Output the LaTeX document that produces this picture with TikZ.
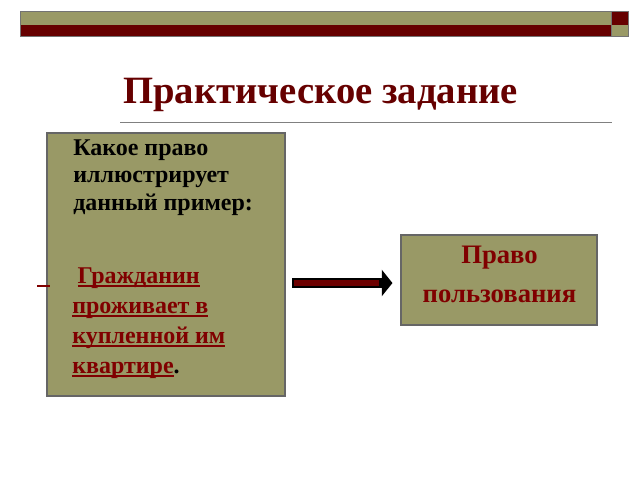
\documentclass[tikz,border=0pt]{standalone}
\usepackage{fontspec}
\setmainfont{Liberation Serif}
\usepackage{tikz}
\usetikzlibrary{arrows.meta, positioning, calc}

\definecolor{olivebox}{RGB}{153,153,102}
\definecolor{maroon}{RGB}{102,0,0}
\definecolor{textred}{RGB}{128,0,0}
\newsavebox{\ulbox}
\newcommand{\ru}[1]{{\color{textred}\sbox{\ulbox}{#1}\rlap{\rule[-3pt]{\wd\ulbox}{1.3pt}}\usebox{\ulbox}}}

\tikzset{
    slidebox/.style={draw=black!60, line width=0.8pt, fill=olivebox, inner sep=0pt},
    bodytext/.style={font=\bfseries\fontsize{18}{20.6}\selectfont, align=left, inner sep=0pt}
}

\begin{document}
\begin{tikzpicture}[x=0.75pt, y=-0.75pt]
    \useasboundingbox (0,0) rectangle (640,480);

    % top bars
    \fill[olivebox] (20,11) rectangle (611,25);
    \fill[maroon] (20,25) rectangle (611,36);
    \fill[maroon] (611,11) rectangle (628,25);
    \fill[olivebox] (611,25) rectangle (628,36);
    \draw[black!55, line width=0.6pt] (20,11) rectangle (628,36);
    \draw[black!55, line width=0.6pt] (611,11) -- (611,36);

    % title
    \node[font=\bfseries\fontsize{29}{34}\selectfont, text=maroon, anchor=base] (title) at (320.5,103) {Практическое задание};
    \draw[black!50, line width=0.7pt] (120,122) -- (612,122);

    % left box (base = last line)
    \node[slidebox, minimum width=178.5pt, minimum height=197.25pt] (question) at (166,264.5) {};
    \node[bodytext, anchor=base west] (qtext) at (73,210)
        {Какое право\\
         иллюстрирует\\
         данный пример:};
    \node[bodytext, font=\bfseries\fontsize{18}{22.5}\selectfont, anchor=base west] (example) at (72,373)
        {\hspace{4pt}\ru{Гражданин}\\
         \ru{проживает в}\\
         \ru{купленной им}\\
         \ru{квартире}.};
    \draw[textred, line width=1.2pt] (37,286) -- (50,286);

    % right box
    \node[slidebox, minimum width=147pt, minimum height=67.5pt] (answer) at (499,280) {};
    \node[font=\bfseries\fontsize{20}{29.25}\selectfont, text=textred, align=center, anchor=base] (atext) at (499.5,302) {Право\\пользования};

    % arrow
    \draw[line width=7.5pt, black, -{Triangle[length=8pt, width=19.5pt]}, shorten <=5.2pt, shorten >=6pt]
        ([yshift=-2.25pt]question.east |- answer.west) -- ([yshift=-2.25pt]answer.west);
    \draw[line width=4pt, textred!85!black, shorten <=6.6pt, shorten >=16pt]
        ([yshift=-2.25pt]question.east |- answer.west) -- ([yshift=-2.25pt]answer.west);
\end{tikzpicture}
\end{document}
